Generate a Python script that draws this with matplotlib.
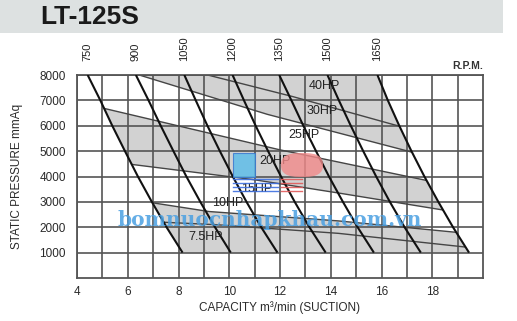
import numpy as np
import matplotlib.pyplot as plt
from matplotlib.patches import Polygon, Rectangle, FancyBboxPatch

plt.rcParams['font.family'] = ['Liberation Sans', 'DejaVu Sans']
plt.rcParams['figure.dpi'] = 100

title = "LT-125S"

# pressure levels (mmAq) where the rpm curves were read
pressure = [8000, 7000, 6000, 5000, 4000, 3000, 2000, 1000]

# capacity (m3/min) of each rpm curve at those pressures
rpm_labels = ["750", "900", "1050", "1200", "1350", "1500", "1650"]
q_750 = [4.42, 4.92, 5.39, 5.89, 6.40, 6.95, 7.53, 8.16]
q_900 = [6.32, 6.82, 7.30, 7.80, 8.31, 8.86, 9.44, 10.06]
q_1050 = [8.23, 8.68, 9.14, 9.63, 10.14, 10.68, 11.26, 11.9]
q_1200 = [10.13, 10.58, 11.04, 11.53, 12.04, 12.58, 13.16, 13.8]
q_1350 = [11.97, 12.45, 12.92, 13.42, 13.93, 14.48, 15.06, 15.7]
q_1500 = [13.87, 14.32, 14.79, 15.28, 15.79, 16.33, 16.91, 17.55]
q_1650 = [15.84, 16.25, 16.70, 17.18, 17.69, 18.24, 18.82, 19.45]
rpm_q = [q_750, q_900, q_1050, q_1200, q_1350, q_1500, q_1650]

# horsepower lines (q, p), running a little past the 750/1650 curves
hp_b_q = [8.0, 9.15, 12.5, 16.49, 18.0]
hp_b_p = [8450, 8000, 7150, 6040, 5650]
hp_a_q = [5.5, 6.45, 11.5, 17.08, 18.5]
hp_a_p = [8300, 8000, 6450, 4990, 4600]
hp_c_q = [4.0, 5.0, 12.0, 17.75, 19.0]
hp_c_p = [7000, 6700, 5050, 3850, 3650]
hp_e_q = [5.0, 6.13, 11.0, 14.3, 18.3, 19.5]
hp_e_p = [5000, 4480, 3870, 3350, 2700, 2500]
hp_f_q = [6.0, 7.0, 9.2, 14.3, 18.95, 20.0]
hp_f_p = [3200, 2960, 2620, 2250, 1800, 1700]
hp_g_q = [6.4, 7.35, 9.5, 14.3, 19.4, 20.5]
hp_g_p = [2400, 2200, 2100, 1760, 1210, 1100]

hp_names = ["40HP", "30HP", "25HP", "20HP", "15HP", "10HP", "7.5HP"]
hp_name_q = [13.74, 13.67, 12.95, 11.8, 11.07, 9.95, 9.08]
hp_name_p = [7580, 6580, 5640, 4600, 3500, 2950, 1620]

fig = plt.figure(figsize=(5.17, 3.21))
ax = fig.add_axes([77 / 517, 43 / 321, 406 / 517, 203 / 321])

# operating region: between the 750 and 1650 rpm curves, above 1000 mmAq
region_pts = list(zip(q_750, pressure)) + list(zip(q_1650[::-1], pressure[::-1]))
region = Polygon(region_pts, closed=True, fill=False, lw=0)
ax.add_patch(region)

shade = '#d2d2d2'
bands = [
    ([3, 21], [9000, 9000], hp_a_q, hp_a_p),
    (hp_c_q, hp_c_p, hp_e_q, hp_e_p),
    (hp_f_q, hp_f_p, [3, 21], [0, 0]),
]
for uq, up, lq, lp in bands:
    pts = list(zip(uq, up)) + list(zip(lq[::-1], lp[::-1]))
    band = Polygon(pts, closed=True, facecolor=shade, edgecolor='none', zorder=0)
    ax.add_patch(band)
    band.set_clip_path(region)

for q, p in [(hp_b_q, hp_b_p), (hp_a_q, hp_a_p), (hp_c_q, hp_c_p),
             (hp_e_q, hp_e_p), (hp_f_q, hp_f_p), (hp_g_q, hp_g_p)]:
    ln, = ax.plot(q, p, color='#454545', lw=1.0, zorder=2)
    ln.set_clip_path(region)

for q in rpm_q:
    ax.plot(q, pressure, color='#111111', lw=1.5, zorder=3, solid_capstyle='butt')

for name, q, p in zip(hp_names, hp_name_q, hp_name_p):
    ax.text(q, p, name, ha='center', va='center', fontsize=9, color='#222222', zorder=4)

for name, q in zip(rpm_labels, rpm_q):
    ax.text(q[0], 8550, name, rotation=90, ha='center', va='bottom', fontsize=8,
            color='#222222', clip_on=False)
ax.text(20, 8150, "R.P.M.", ha='right', va='bottom', fontsize=7.5, fontweight='bold',
        color='#333333', clip_on=False)

ax.set_xlim(4, 20)
ax.set_ylim(0, 8000)
ax.set_xticks(range(4, 20, 2))
ax.set_xticks(range(5, 20), minor=True)
ax.set_yticks(range(1000, 9000, 1000))
ax.tick_params(which='both', length=0, labelsize=8.5, labelcolor='#2a2a2a')
ax.tick_params(axis='y', pad=8)
ax.tick_params(axis='x', pad=6)
ax.set_axisbelow(True)
ax.grid(which='both', color='#555555', lw=1.2)
for s in ax.spines.values():
    s.set_color('#555555')
    s.set_linewidth(1.3)

ax.set_xlabel("CAPACITY m³/min (SUCTION)", fontsize=8.5, color='#2a2a2a', labelpad=2)
ax.set_ylabel("STATIC PRESSURE mmAq", fontsize=8.5, color='#2a2a2a', labelpad=12)

# header banner
fig.add_artist(Rectangle((0, 1 - 33 / 321), 503 / 517, 33 / 321, transform=fig.transFigure,
                         facecolor='#dde1e1', edgecolor='none', zorder=0))
fig.text(40 / 517, 1 - 17 / 321, title, fontsize=19, fontweight='bold', color='#1a1a1a',
         va='center', ha='left')

# site watermark
def px(x, y):
    return x / 517, 1 - y / 321

fig.add_artist(Rectangle(px(233, 177), 22 / 517, 24 / 321, transform=fig.transFigure,
                         facecolor='#5fbde9', edgecolor='#3a78d0', lw=0.8, alpha=0.85, zorder=5))
fig.add_artist(FancyBboxPatch(px(281, 177), 42 / 517, 24 / 321, transform=fig.transFigure,
                              boxstyle='round,pad=0,rounding_size=0.035',
                              facecolor='#f28a8a', edgecolor='none', alpha=0.8, zorder=5))
for yy in [179, 183, 187, 191]:
    fig.add_artist(plt.Line2D([233 / 517, 278 / 517], [1 - yy / 321] * 2, transform=fig.transFigure,
                              color='#3d6fe0', lw=1.0, alpha=0.9, zorder=5))
    fig.add_artist(plt.Line2D([281 / 517, 302 / 517], [1 - yy / 321] * 2, transform=fig.transFigure,
                              color='#e05a5a', lw=1.0, alpha=0.9, zorder=5))
fig.text(270 / 517, 1 - 220 / 321, "bomnuocnhapkhau.com.vn", fontsize=14.5, fontweight='bold',
         family='DejaVu Serif', color='#4aa0e2', alpha=0.85, ha='center', va='center', zorder=6)

fig.savefig("out.png", dpi=100)
